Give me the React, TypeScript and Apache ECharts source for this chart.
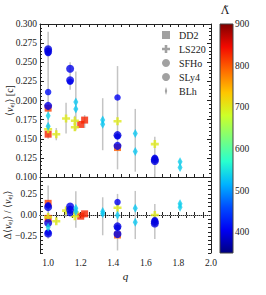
import React, { useEffect, useRef } from 'react';
import * as echarts from 'echarts';

// ---- data: [q, value, LambdaTilde] ----
const dd2Top = [[1.0, 0.190, 815], [1.0, 0.156, 830], [1.2, 0.1687, 830], [1.224, 0.1744, 830], [1.426, 0.1385, 795]];
const ls220Top = [[1.0, 0.1625, 700], [1.05, 0.156, 700], [1.11, 0.1765, 700], [1.164, 0.1735, 700], [1.164, 0.165, 700], [1.426, 0.173, 700], [1.655, 0.143, 700]];
const sfhoTop = [[1.0, 0.262, 405], [1.0, 0.211, 415], [1.135, 0.2245, 410], [1.426, 0.204, 405], [1.426, 0.153, 410], [1.655, 0.125, 410]];
const sly4Top = [[1.0, 0.267, 395], [1.0, 0.264, 395], [1.0, 0.193, 400], [1.135, 0.2415, 400], [1.135, 0.2265, 400], [1.426, 0.1547, 395], [1.426, 0.1407, 400], [1.655, 0.123, 395], [1.655, 0.121, 395]];
const blhTop = [[1.0, 0.180, 540], [1.0, 0.1665, 530], [1.17, 0.198, 530], [1.17, 0.189, 530], [1.335, 0.1745, 530], [1.335, 0.169, 530], [1.535, 0.157, 530], [1.535, 0.1334, 530], [1.81, 0.120, 535], [1.81, 0.1125, 535]];

const dd2Bot = [[1.0, 0.138, 815], [1.0, -0.04, 830], [1.2, -0.014, 830], [1.224, 0.014, 830], [1.426, -0.237, 795]];
const ls220Bot = [[1.0, -0.025, 700], [1.05, -0.074, 700], [1.11, 0.052, 700], [1.164, 0.028, 700], [1.164, -0.014, 700], [1.426, 0.085, 700], [1.655, 0.0, 700]];
const sfhoBot = [[1.0, 0.114, 405], [1.0, -0.206, 415], [1.135, 0.022, 410], [1.426, 0.153, 405], [1.426, -0.15, 410], [1.655, -0.06, 410]];
const sly4Bot = [[1.0, 0.093, 395], [1.0, -0.095, 395], [1.0, -0.22, 400], [1.135, 0.10, 400], [1.135, 0.062, 400], [1.426, -0.135, 395], [1.426, -0.225, 400], [1.655, -0.08, 395], [1.655, -0.10, 395]];
const blhBot = [[1.0, -0.146, 540], [1.17, 0.081, 530], [1.17, 0.042, 530], [1.335, 0.042, 530], [1.335, 0.014, 530], [1.426, -0.004, 530], [1.535, 0.081, 530], [1.535, -0.086, 530], [1.81, 0.134, 535], [1.81, 0.093, 535]];

// error bars: [q, low, high]
const errTop = [[1.0, 0.150, 0.290], [1.05, 0.148, 0.164], [1.11, 0.157, 0.197], [1.135, 0.214, 0.250], [1.164, 0.160, 0.180], [1.17, 0.161, 0.238], [1.224, 0.164, 0.181], [1.335, 0.135, 0.203], [1.426, 0.110, 0.245], [1.535, 0.107, 0.189], [1.655, 0.100, 0.1525], [1.81, 0.110, 0.122]];
const errBot = [[1.0, -0.28, 0.35], [1.05, -0.10, -0.05], [1.11, -0.02, 0.08], [1.135, 0.0, 0.12], [1.17, -0.15, 0.28], [1.224, -0.03, 0.04], [1.335, -0.24, 0.21], [1.426, -0.42, 0.25], [1.535, -0.285, 0.285], [1.655, -0.285, 0.13], [1.81, 0.08, 0.15]];

const names = ['DD2', 'LS220', 'SFHo', 'SLy4', 'BLh'];
const lambdaRange = [350, 900];
const jet = ['#000080', '#0000f3', '#004cff', '#00b3ff', '#29ffce', '#7bff7b', '#cdff29', '#ffc600', '#ff6800', '#f30900', '#800000'];

const FONT = "'Liberation Serif', 'DejaVu Serif', serif";
const AX = '#222';
const PLUS = 'path://M3.4,0H6.6V3.4H10V6.6H6.6V10H3.4V6.6H0V3.4H3.4Z';
const SQUARE = 'path://M0,0H10V10H0Z';
const THIN_DIAMOND = 'path://M3,0L6,10L3,20L0,10Z';

const symbols: Record<string, any> = {
  DD2: { symbol: 'rect', size: 7, icon: SQUARE },
  LS220: { symbol: PLUS, size: 8, icon: PLUS },
  SFHo: { symbol: 'circle', size: 6.5, icon: 'path://M5,1.5A3.5,3.5,0,1,1,4.99,1.5Z' },
  SLy4: { symbol: 'circle', size: 8, icon: 'circle' },
  BLh: { symbol: 'diamond', size: [5, 9], icon: THIN_DIAMOND },
};

const rich = {
  it: { fontStyle: 'italic', fontSize: 10, fontFamily: FONT, color: AX, lineHeight: 12 },
  sub: { fontSize: 7, fontFamily: FONT, color: AX, verticalAlign: 'bottom', lineHeight: 11 },
};

export default function App() {
  const ref = useRef<HTMLDivElement>(null);
  useEffect(() => {
    document.body.style.margin = '0';
    const chart = echarts.init(ref.current!, null, { renderer: 'svg' });

    const xBase = {
      type: 'value', min: 0.95, max: 2.0, interval: 0.05,
      axisLine: { lineStyle: { color: AX, width: 1 } },
      axisTick: { inside: true, length: 3, lineStyle: { color: AX } },
      splitLine: { show: false },
      axisLabel: { show: false },
    };
    const yTopBase = {
      type: 'value', min: 0.1, max: 0.3, interval: 0.025,
      axisLine: { show: true, lineStyle: { color: AX } },
      axisTick: { show: true, inside: true, length: 4, lineStyle: { color: AX } },
      minorTick: { show: true, splitNumber: 5, length: 2, lineStyle: { color: AX } },
      splitLine: { show: false },
      axisLabel: { show: false },
    };
    const yBotBase = {
      type: 'value', min: -0.45, max: 0.45, interval: 0.05,
      axisLine: { show: true, lineStyle: { color: AX } },
      axisTick: { show: true, inside: true, length: 3, lineStyle: { color: AX } },
      splitLine: { show: false },
      axisLabel: { show: false },
    };
    const labelStyle = { fontFamily: FONT, fontSize: 9.5, color: AX };

    const errRender = (params: any, api: any) => {
      const x = api.value(0);
      const p1 = api.coord([x, api.value(1)]);
      const p2 = api.coord([x, api.value(2)]);
      return {
        type: 'line',
        shape: { x1: p1[0], y1: p1[1], x2: p2[0], y2: p2[1] },
        style: { stroke: '#c4c4c4', lineWidth: 1.5 },
      };
    };

    const topData = [dd2Top, ls220Top, sfhoTop, sly4Top, blhTop];
    const botData = [dd2Bot, ls220Bot, sfhoBot, sly4Bot, blhBot];

    const scatterSeries: any[] = [];
    names.forEach((n, i) => {
      scatterSeries.push({
        name: n, type: 'scatter', xAxisIndex: 0, yAxisIndex: 0,
        symbol: symbols[n].symbol, symbolSize: symbols[n].size,
        data: topData[i], z: 5 + i,
      });
    });
    names.forEach((n, i) => {
      const s: any = {
        name: n, type: 'scatter', xAxisIndex: 2, yAxisIndex: 2,
        symbol: symbols[n].symbol, symbolSize: symbols[n].size,
        data: botData[i], z: 5 + i,
      };
      if (i === 0) {
        s.markLine = {
          silent: true, symbol: ['none', 'none'], label: { show: false },
          lineStyle: { type: 'dotted', color: '#999', width: 1 },
          data: [{ yAxis: 0 }],
        };
      }
      scatterSeries.push(s);
    });

    const option: any = {
      animation: false,
      backgroundColor: '#fff',
      textStyle: { fontFamily: FONT },
      graphic: [
        { type: 'text', left: 221, top: 5, style: { text: 'Λ̃', font: "11px 'DejaVu Serif', serif", fill: AX } },
      ],
      grid: [
        { left: 40, top: 24, width: 171, height: 153, outerBoundsMode: 'none' },
        { left: 40, top: 177, width: 171, height: 76, outerBoundsMode: 'none' },
        { left: 220, top: 24, width: 13, height: 229, outerBoundsMode: 'none' },
      ],
      legend: {
        orient: 'vertical', left: 157, top: 25,
        itemWidth: 16, itemHeight: 8, itemGap: 4,
        symbolKeepAspect: true,
        itemStyle: { color: '#8a8a8a', borderWidth: 0 },
        textStyle: { fontFamily: FONT, fontSize: 10, color: AX, lineHeight: 10 },
        data: names.map((n) => ({ name: n, icon: symbols[n].icon })),
      },
      visualMap: {
        show: false, type: 'continuous', min: lambdaRange[0], max: lambdaRange[1], dimension: 2,
        seriesIndex: scatterSeries.map((_, i) => i),
        inRange: { color: jet },
      },
      xAxis: [
        { ...xBase, gridIndex: 0, position: 'bottom' },
        { ...xBase, gridIndex: 0, position: 'top' },
        {
          ...xBase, gridIndex: 1, position: 'bottom',
          name: 'q', nameLocation: 'middle', nameGap: 17, nameMoveOverlap: false,
          nameTextStyle: { fontFamily: FONT, fontSize: 11, fontStyle: 'italic', color: AX },
          axisLabel: {
            show: true, ...labelStyle, margin: 5,
            formatter: (v: number) => (Math.round(v * 100) % 20 === 0 ? v.toFixed(1) : ''),
          },
        },
        { ...xBase, gridIndex: 1, position: 'top' },
        { type: 'value', gridIndex: 2, min: 0, max: 1, show: false },
      ],
      yAxis: [
        {
          ...yTopBase, gridIndex: 0, position: 'left',
          name: '⟨{it|v}{sub|ej}⟩ [c]', nameLocation: 'middle', nameGap: 25, nameMoveOverlap: false,
          nameTextStyle: { fontFamily: FONT, fontSize: 10, color: AX, lineHeight: 12, rich },
          axisLabel: { show: true, ...labelStyle, margin: 3, formatter: (v: number) => v.toFixed(3) },
        },
        { ...yTopBase, gridIndex: 0, position: 'right' },
        {
          ...yBotBase, gridIndex: 1, position: 'left',
          name: 'Δ⟨{it|v}{sub|ej}⟩ / ⟨{it|v}{sub|ej}⟩', nameLocation: 'middle', nameGap: 27, nameMoveOverlap: false,
          nameTextStyle: { fontFamily: FONT, fontSize: 10, color: AX, lineHeight: 12, rich },
          axisLabel: {
            show: true, ...labelStyle, margin: 3,
            formatter: (v: number) => {
              const r = Math.round(v * 100);
              if (r % 25 !== 0) return '';
              const s = Math.abs(v).toFixed(2);
              return r < 0 ? '−' + s : s;
            },
          },
        },
        { ...yBotBase, gridIndex: 1, position: 'right' },
        {
          type: 'value', gridIndex: 2, position: 'right', min: lambdaRange[0], max: lambdaRange[1], interval: 50,
          axisLine: { show: false },
          axisTick: { show: false },
          splitLine: { show: false },
          axisLabel: {
            show: true, ...labelStyle, margin: 2,
            formatter: (v: number) => (Math.round(v) % 100 === 0 ? String(Math.round(v)) : ''),
          },
        },
      ],
      series: [
        ...scatterSeries,
        {
          type: 'custom', name: 'errTop', xAxisIndex: 0, yAxisIndex: 0, z: 1,
          renderItem: errRender, encode: { x: 0, y: [1, 2] }, data: errTop, silent: true,
        },
        {
          type: 'custom', name: 'errBot', xAxisIndex: 2, yAxisIndex: 2, z: 1,
          renderItem: errRender, encode: { x: 0, y: [1, 2] }, data: errBot, silent: true,
        },
        {
          type: 'custom', name: 'colorbar', xAxisIndex: 4, yAxisIndex: 4, z: 1, silent: true,
          encode: { x: 0, y: [1, 2] },
          data: [[0, lambdaRange[0], lambdaRange[1]]],
          renderItem: (params: any, api: any) => {
            const tl = api.coord([0, api.value(2)]);
            const br = api.coord([1, api.value(1)]);
            const stops = jet.map((c, i) => ({ offset: 1 - i / (jet.length - 1), color: c })).reverse();
            return {
              type: 'rect',
              shape: { x: tl[0], y: tl[1], width: br[0] - tl[0], height: br[1] - tl[1] },
              style: {
                fill: { type: 'linear', x: 0, y: 0, x2: 0, y2: 1, colorStops: stops },
                stroke: '#444', lineWidth: 1,
              },
            };
          },
        },
      ],
    };
    chart.setOption(option);
    return () => chart.dispose();
  }, []);
  return <div ref={ref} style={{ position: 'fixed', left: 0, top: 0, width: 266, height: 295 }} />;
}
